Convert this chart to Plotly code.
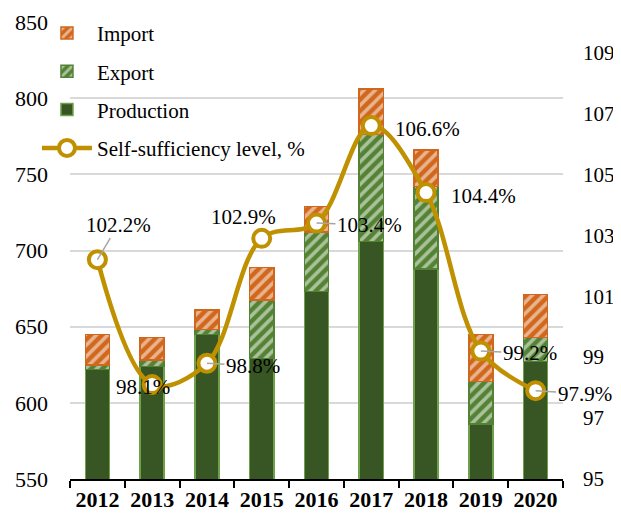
import plotly.graph_objects as go

years = ["2012", "2013", "2014", "2015", "2016", "2017", "2018", "2019", "2020"]
production = [622, 624, 645, 629, 673, 706, 688, 586, 627]
export = [3, 4, 3, 38.5, 39, 70, 54, 28, 16]
imports = [20, 15, 13, 21.5, 17, 30, 24, 31, 28]
self_suff = [102.2, 98.1, 98.8, 102.9, 103.4, 106.6, 104.4, 99.2, 97.9]
y_ticks = [550, 600, 650, 700, 750, 800, 850]
y2_ticks = [95, 97, 99, 101, 103, 105, 107, 109]

FONT = "Times New Roman, Liberation Serif, DejaVu Serif, serif"
DARK_GREEN = "#375623"
GREEN = "#548235"
BORDER_GREEN = "#6FA04A"
ORANGE = "#D0671C"
GOLD = "#BF9000"

fig = go.Figure()
fig.add_trace(go.Bar(
    x=years, y=production, name="Production",
    marker=dict(color=DARK_GREEN, line=dict(color=BORDER_GREEN, width=1.5)),
    legendgroup="c", legendrank=3,
))
fig.add_trace(go.Bar(
    x=years, y=export, name="Export",
    marker=dict(color=GREEN, line=dict(color=GREEN, width=1.5),
                pattern=dict(shape="/", bgcolor=GREEN, fgcolor="white",
                             size=8, solidity=0.45)),
    legendgroup="b", legendrank=2,
))
fig.add_trace(go.Bar(
    x=years, y=imports, name="Import",
    marker=dict(color=ORANGE, line=dict(color=ORANGE, width=1.5),
                pattern=dict(shape="/", bgcolor=ORANGE, fgcolor="white",
                             size=8, solidity=0.45)),
    legendgroup="a", legendrank=1,
))
fig.add_trace(go.Scatter(
    x=years, y=self_suff, name="Self-sufficiency level, %", yaxis="y2",
    mode="lines+markers",
    line=dict(color=GOLD, width=4.5, shape="spline", smoothing=1.0),
    marker=dict(size=17, color="white", line=dict(color=GOLD, width=4)),
    legendgroup="d", legendrank=4,
))

# data labels: (dx, dy) pixel offset of label centre (dy positive = down), leader line or not
label_pos = [(21, -35, True), (-9, 2, False), (46, 3, True), (-18, -21, False),
             (53, 2, True), (56, 3, False), (57, 3, False), (49, 2, True),
             (49, 3, True)]
for i, (v, (dx, dy, lead)) in enumerate(zip(self_suff, label_pos)):
    txt = f"{v:.1f}%"
    if lead:
        fig.add_annotation(x=i, y=v, xref="x", yref="y2", text=txt,
                           showarrow=True, arrowhead=0, arrowwidth=1.5,
                           arrowcolor="#A6A6A6", ax=dx, ay=dy,
                           font=dict(family=FONT, size=21, color="black"))
    else:
        fig.add_annotation(x=i, y=v, xref="x", yref="y2", text=txt,
                           showarrow=False, xshift=dx, yshift=-dy,
                           font=dict(family=FONT, size=21, color="black"))

# page body adds an 8px offset, so the figure is 613x507
fig.update_layout(
    width=613, height=507,
    margin=dict(l=62, r=58, t=14, b=36, autoexpand=False),
    paper_bgcolor="white", plot_bgcolor="white",
    barmode="stack", bargap=0.56,
    font=dict(family=FONT, size=21, color="black"),
    showlegend=True,
    legend=dict(x=-0.067, y=1.02, xanchor="left", yanchor="top",
                bgcolor="rgba(0,0,0,0)", traceorder="grouped",
                tracegroupgap=8, itemwidth=50, font=dict(family=FONT, size=21)),
    xaxis=dict(type="category", range=[-0.5, len(years) - 0.5],
               showline=True, linecolor="black", linewidth=1.5,
               ticks="outside", tickson="boundaries", ticklen=7, tickwidth=1.5,
               tickcolor="black", showgrid=False, tickangle=0,
               tickfont=dict(family=FONT, size=22, color="black", weight="bold")),
    yaxis=dict(range=[550, 850], tickvals=y_ticks, showgrid=True,
               gridcolor="#D9D9D9", gridwidth=1.5, zeroline=False,
               showline=False, ticklabelstandoff=21,
               tickfont=dict(family=FONT, size=22, color="black")),
    yaxis2=dict(range=[95, 110], tickvals=y2_ticks, overlaying="y", side="right",
                showgrid=False, zeroline=False, showline=False,
                ticklabelstandoff=19,
                tickfont=dict(family=FONT, size=21, color="black")),
)

fig.write_html("out.html")
